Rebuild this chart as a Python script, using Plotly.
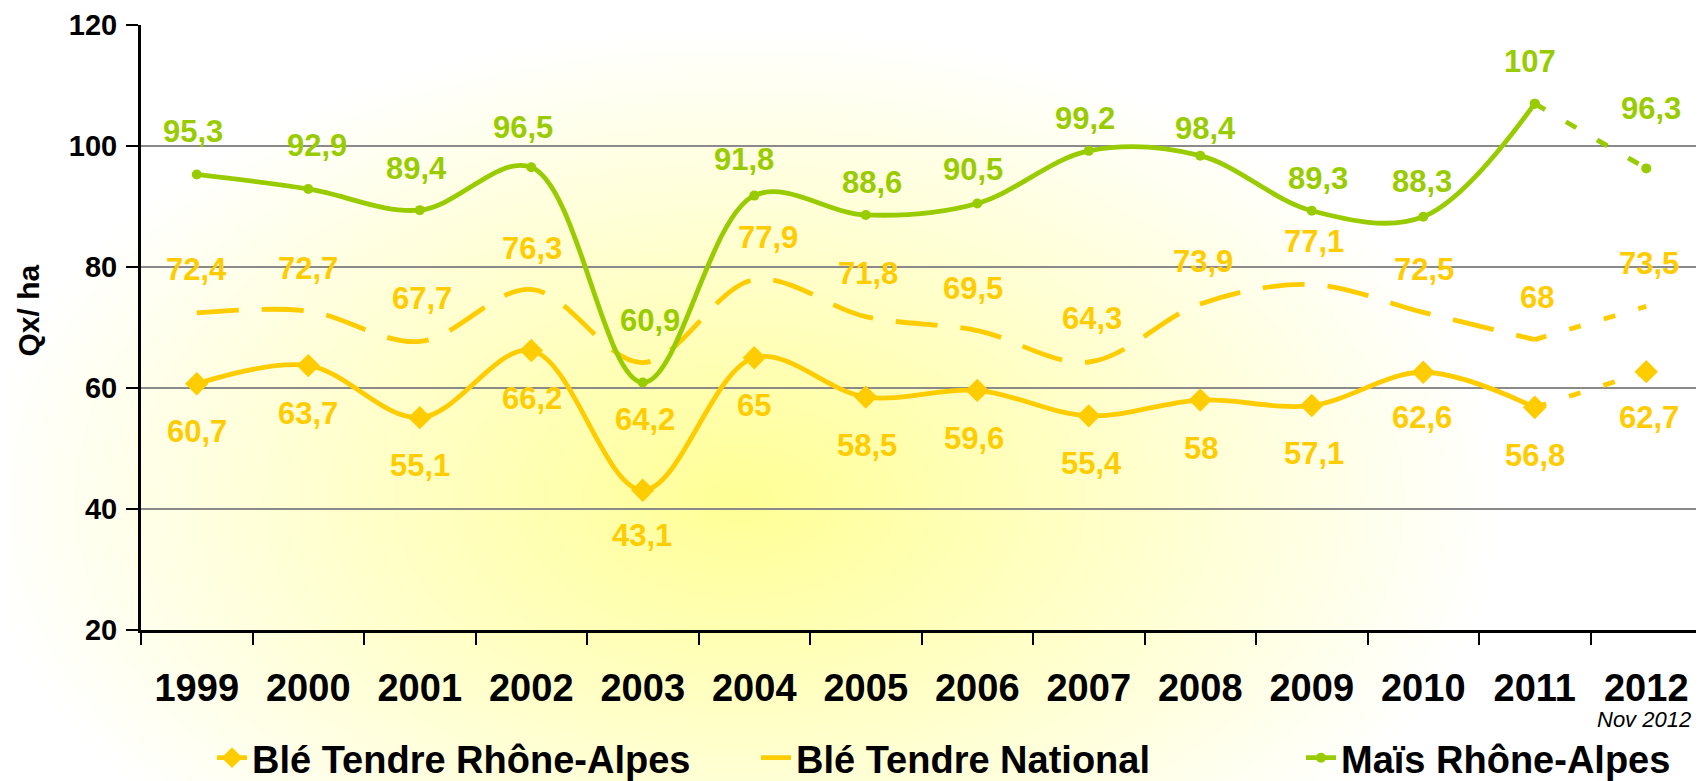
import base64
import struct
import zlib

import numpy as np
import plotly.graph_objects as go

# ---------------- data ----------------
years = ["1999", "2000", "2001", "2002", "2003", "2004", "2005",
         "2006", "2007", "2008", "2009", "2010", "2011", "2012"]
ble_ra = [60.7, 63.7, 55.1, 66.2, 43.1, 65, 58.5, 59.6, 55.4, 58, 57.1, 62.6, 56.8, 62.7]
ble_nat = [72.4, 72.7, 67.7, 76.3, 64.2, 77.9, 71.8, 69.5, 64.3, 73.9, 77.1, 72.5, 68, 73.5]
mais_ra = [95.3, 92.9, 89.4, 96.5, 60.9, 91.8, 88.6, 90.5, 99.2, 98.4, 89.3, 88.3, 107, 96.3]
series_names = ["Blé Tendre Rhône-Alpes", "Blé Tendre National", "Maïs Rhône-Alpes"]
y_title = "Qx/ ha"
note_text = "Nov 2012"

# ---------------- style ----------------
# the page body has an 8px margin, so the figure is drawn 8px smaller
OFF = 8
W, H = 1704 - OFF, 781 - OFF
PLOT_L, PLOT_R, PLOT_T, PLOT_B = 141 - OFF, 1702 - OFF, 25 - OFF, 630 - OFF
M_L, M_R, M_T, M_B = PLOT_L, W - PLOT_R, PLOT_T, H - PLOT_B
pw = PLOT_R - PLOT_L
ph = PLOT_B - PLOT_T

YELLOW = "#FFCC00"
GREEN = "#99CC00"
FONT = "Liberation Sans, Arial, sans-serif"

# label offsets in pixels (style only)
ra_dy = [-48, -48, -48, -48, -45, -48, -48, -48, -48, -48, -48, -45, -48, -46]
ra_dx = [0, 0, 0, 1, -1, 0, 1, -3, 3, 1, 2, -1, 0, 3]
nat_dy = [43, 43, 43, 41, -57, 42, 43, 42, 43, 42, 43, 43, 42, 43]
nat_dx = [0, 0, 2, 1, 2, 14, 2, -4, 3, 3, 2, 1, 2, 3]
mais_dy = [43, 43, 42, 40, 62, 36, 32, 34, 32, 27, 32, 35, 42, 60]
mais_dx = [-4, 9, -3, -8, 7, -10, 6, -4, -4, 5, 6, -1, -5, 5]
legend_left_px = [204, 748, 1293]   # figure px
legend_mid_px = 750                  # figure px


def px_to_paper_x(px):
    return (px - PLOT_L) / pw


def px_to_paper_y(py):
    return (PLOT_B - py) / ph


def radial_bg_uri(w, h, cx, cy, rx, ry, center_rgb):
    xs = (np.arange(w) + 0.5) * (W / w)
    ys = (np.arange(h) + 0.5) * (H / h)
    X, Y = np.meshgrid(xs, ys)
    t = np.sqrt(((X - cx) / rx) ** 2 + ((Y - cy) / ry) ** 2)
    t = np.clip(t, 0, 1)
    c = np.array(center_rgb, dtype=float)
    white = np.array([255.0, 255.0, 255.0])
    img = c[None, None, :] + (white - c)[None, None, :] * t[..., None]
    arr = np.clip(np.round(img), 0, 255).astype(np.uint8)
    raw = b"".join(b"\x00" + arr[r].tobytes() for r in range(h))

    def chunk(tag, data):
        return (struct.pack(">I", len(data)) + tag + data
                + struct.pack(">I", zlib.crc32(tag + data) & 0xFFFFFFFF))

    png = (b"\x89PNG\r\n\x1a\n"
           + chunk(b"IHDR", struct.pack(">IIBBBBB", w, h, 8, 2, 0, 0, 0))
           + chunk(b"IDAT", zlib.compress(raw, 9))
           + chunk(b"IEND", b""))
    return "data:image/png;base64," + base64.b64encode(png).decode()


def fmt(v):
    return f"{v:g}".replace(".", ",")


fig = go.Figure()

# main series (1999-2011) smoothed
fig.add_trace(go.Scatter(
    x=years[:-1], y=ble_ra[:-1], name=series_names[0], mode="lines+markers",
    line=dict(color=YELLOW, width=4.8, shape="spline", smoothing=1),
    marker=dict(symbol="diamond", size=18, color=YELLOW),
    legendgroup="a", legend="legend"))
fig.add_trace(go.Scatter(
    x=years[:-1], y=ble_nat[:-1], name=series_names[1], mode="lines",
    line=dict(color=YELLOW, width=4.8, shape="spline", smoothing=1, dash="42px,23px"),
    legendgroup="b", legend="legend2"))
fig.add_trace(go.Scatter(
    x=years[:-1], y=mais_ra[:-1], name=series_names[2], mode="lines+markers",
    line=dict(color=GREEN, width=4.8, shape="spline", smoothing=1),
    marker=dict(symbol="circle", size=10, color=GREEN),
    legendgroup="c", legend="legend3"))

# provisional 2011-2012 segments (dashed)
fig.add_trace(go.Scatter(
    x=years[-2:], y=ble_ra[-2:], mode="lines+markers", showlegend=False,
    line=dict(color=YELLOW, width=4.8, dash="12px,24px"),
    marker=dict(symbol="diamond", size=18, color=YELLOW), legendgroup="a"))
fig.add_trace(go.Scatter(
    x=years[-2:], y=ble_nat[-2:], mode="lines", showlegend=False,
    line=dict(color=YELLOW, width=4.8, dash="12px,24px"), legendgroup="b"))
fig.add_trace(go.Scatter(
    x=years[-2:], y=mais_ra[-2:], mode="lines+markers", showlegend=False,
    line=dict(color=GREEN, width=4.8, dash="12px,24px"),
    marker=dict(symbol="circle", size=10, color=GREEN), legendgroup="c"))

annotations = []
for vals, dys, dxs, col in [(ble_ra, ra_dy, ra_dx, YELLOW),
                            (ble_nat, nat_dy, nat_dx, YELLOW),
                            (mais_ra, mais_dy, mais_dx, GREEN)]:
    for i, (v, dy, dx) in enumerate(zip(vals, dys, dxs)):
        annotations.append(dict(
            x=i, y=v, xref="x", yref="y", text=fmt(v), showarrow=False,
            xanchor="center", yanchor="middle", yshift=dy, xshift=dx,
            font=dict(family=FONT, size=31, color=col, weight="bold")))

annotations.append(dict(
    x=px_to_paper_x(1685), y=px_to_paper_y(711),
    xref="paper", yref="paper", text=f"<i>{note_text}</i>", showarrow=False,
    xanchor="right", yanchor="middle",
    font=dict(family=FONT, size=22, color="#000000")))

annotations.append(dict(
    x=px_to_paper_x(27.5 - OFF), y=px_to_paper_y(311 - OFF),
    xref="paper", yref="paper", text=y_title, showarrow=False, textangle=-90,
    xanchor="center", yanchor="middle",
    font=dict(family=FONT, size=30, color="#000000", weight="bold")))

bg = radial_bg_uri(424, 193, cx=740 - OFF, cy=500 - OFF, rx=760, ry=470,
                   center_rgb=(255, 255, 150))

leg_common = dict(orientation="h", xanchor="left", yanchor="middle",
                  y=px_to_paper_y(legend_mid_px), bgcolor="rgba(0,0,0,0)",
                  font=dict(family=FONT, size=38, color="black", weight="bold"),
                  itemsizing="trace")

fig.update_layout(
    width=W, height=H,
    margin=dict(l=M_L, r=M_R, t=M_T, b=M_B, autoexpand=False),
    paper_bgcolor="white", plot_bgcolor="rgba(0,0,0,0)",
    font=dict(family=FONT, color="black"),
    images=[dict(source=bg, xref="paper", yref="paper",
                 x=-M_L / pw, y=1 + M_T / ph, sizex=W / pw, sizey=H / ph,
                 xanchor="left", yanchor="top", sizing="stretch", layer="below")],
    xaxis=dict(type="category", tickson="boundaries", ticks="outside", ticklen=12,
               tickwidth=2, tickcolor="black", showgrid=False,
               showline=True, linecolor="black", linewidth=3,
               tickfont=dict(family=FONT, size=38, color="black", weight="bold"),
               ticklabelstandoff=22, range=[-0.5, 13.5]),
    yaxis=dict(range=[20, 120], dtick=20, tick0=20, ticks="outside", ticklen=12,
               tickwidth=2, tickcolor="black",
               showgrid=True, gridcolor="#8A8A8A", gridwidth=2,
               showline=True, linecolor="black", linewidth=3, zeroline=False,
               tickfont=dict(family=FONT, size=29, color="black", weight="bold"),
               ticklabelstandoff=3),
    legend=dict(x=px_to_paper_x(legend_left_px[0]), **leg_common),
    legend2=dict(x=px_to_paper_x(legend_left_px[1]), **leg_common),
    legend3=dict(x=px_to_paper_x(legend_left_px[2]), **leg_common),
    annotations=annotations,
    showlegend=True,
)

fig.write_html("out.html")
